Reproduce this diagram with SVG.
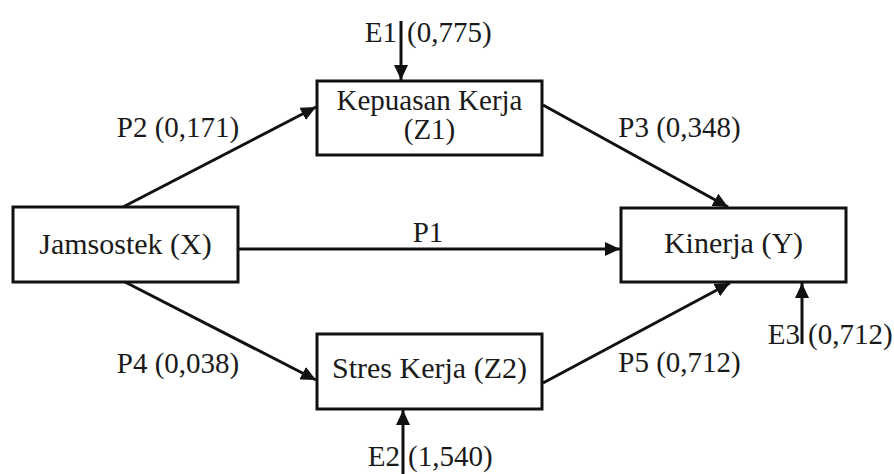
<svg xmlns="http://www.w3.org/2000/svg" width="894" height="474" viewBox="0 0 894 474">
<style>
text{font-size:29px;fill:#1a1a1a}
.box{fill:#fff;stroke:#111;stroke-width:3}
.c{text-anchor:middle}
.e{text-anchor:end}
.n{font-size:30px}
.ln{stroke:#111;stroke-width:3;fill:none;marker-end:url(#ah)}
</style>
<defs>
<marker id="ah" markerUnits="userSpaceOnUse" markerWidth="16" markerHeight="14" refX="15" refY="7" orient="auto">
<path d="M0,0 L15,7 L0,14 z" fill="#111"/>
</marker>
</defs>
<rect width="894" height="474" fill="#fff"/>
<g font-family="Liberation Serif, Times New Roman, serif">
<g id="connectors">
<line class="ln" x1="401" y1="21" x2="401" y2="80"/>
<line class="ln" x1="403" y1="474" x2="403" y2="410"/>
<line class="ln" x1="802" y1="344" x2="802" y2="283"/>
<line class="ln" x1="238" y1="249" x2="620" y2="249"/>
<line class="ln" x1="123" y1="207" x2="316" y2="107"/>
<line class="ln" x1="125" y1="282" x2="316" y2="380"/>
<line class="ln" x1="543" y1="105" x2="728" y2="207"/>
<line class="ln" x1="543" y1="383" x2="730" y2="283"/>
</g>
<g id="labels">
<text x="178" y="137" class="c">P2 (0,171)</text>
<text x="178" y="373" class="c">P4 (0,038)</text>
<text x="679.5" y="137" class="c">P3 (0,348)</text>
<text x="679.5" y="372" class="c">P5 (0,712)</text>
<text x="428" y="242" class="c">P1</text>
<text x="397" y="42" class="e">E1</text>
<text x="407" y="42">(0,775)</text>
<text x="400" y="466" class="e">E2</text>
<text x="408" y="466">(1,540)</text>
<text x="800" y="344" class="e">E3</text>
<text x="808" y="344">(0,712)</text>
</g>
<g id="jamsostek">
<rect class="box" x="13" y="207" width="225" height="75"/>
<text x="125.5" y="254" class="c n">Jamsostek (X)</text>
</g>
<g id="kepuasan">
<rect class="box" x="317" y="81" width="225" height="74"/>
<text x="429.5" y="110" class="c" font-size="28">Kepuasan Kerja</text>
<text x="429.5" y="139" class="c" font-size="28">(Z1)</text>
</g>
<g id="kinerja">
<rect class="box" x="621" y="208" width="225" height="74"/>
<text x="733.5" y="253" class="c n">Kinerja (Y)</text>
</g>
<g id="stres">
<rect class="box" x="317" y="334" width="225" height="75"/>
<text x="429.5" y="378" class="c n">Stres Kerja (Z2)</text>
</g>
</g>
</svg>
